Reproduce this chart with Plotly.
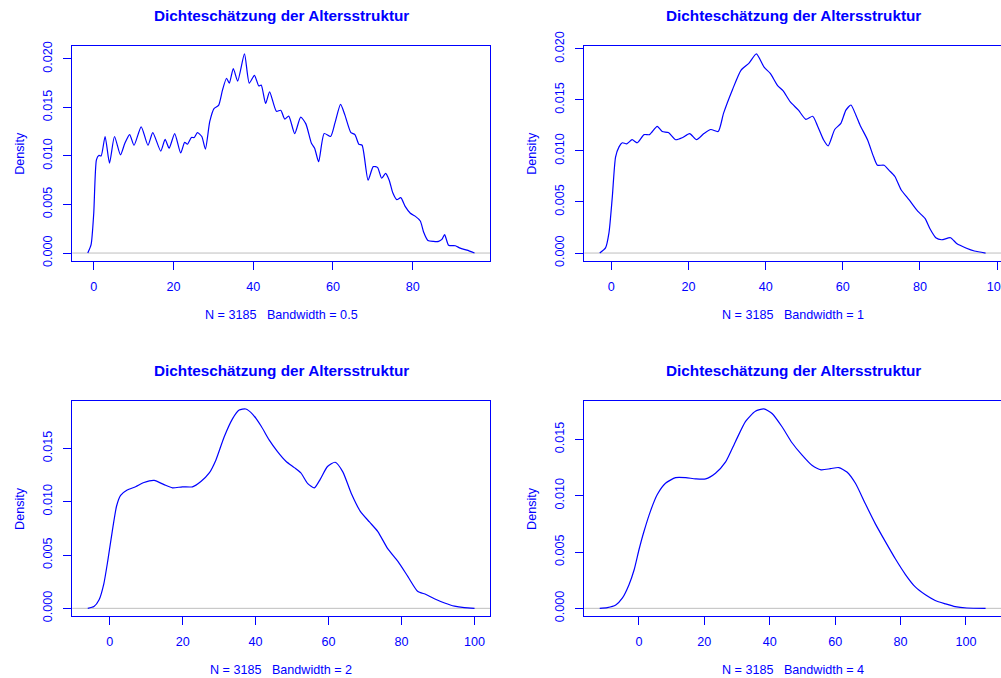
import plotly.graph_objects as go

# density estimates of the age structure (age, density)
age_bw05 = [-1.5, -0.67, 0, 0.67, 1.26, 1.85, 2.85, 3.95, 5.2, 6.7, 7.8, 9.0, 10.1, 11.9, 13.6, 14.8,
            16.8, 17.9, 18.9, 20.3, 21.8, 22.8, 23.5, 24.5, 25.2, 26.0, 27.1, 28.0, 29.1, 30.2, 31.3,
            32.3, 33.3, 34.0, 35.0, 36.1, 37.8, 39.0, 40.3, 41.4, 42.0, 43.1, 44.1, 45.8, 46.9, 47.9,
            48.9, 50.4, 51.9, 53.2, 54.6, 55.4, 56.4, 57.8, 59.4, 60.5, 61.9, 63.0, 64.5, 65.5, 66.5,
            67.3, 68.8, 70.1, 71.2, 72.2, 73.2, 74.1, 75.0, 76.0, 77.0, 78.1, 79.4, 80.6, 81.9, 82.7,
            83.8, 85.2, 86.5, 87.3, 88.0, 89.0, 90.7, 91.9, 93.6, 95.5]
dens_bw05 = [0.0, 0.00086, 0.0041, 0.0096, 0.01005, 0.0100, 0.0120, 0.00926, 0.0120, 0.0101, 0.0113,
             0.0122, 0.0111, 0.0130, 0.0111, 0.0124, 0.0105, 0.0117, 0.0108, 0.0123, 0.0103, 0.0114,
             0.0112, 0.0119, 0.0119, 0.0124, 0.0120, 0.0107, 0.01355, 0.0149, 0.0152, 0.0168, 0.0180,
             0.0175, 0.0190, 0.0177, 0.0205, 0.0175, 0.0183, 0.0172, 0.0173, 0.0154, 0.0166, 0.0146,
             0.0147, 0.0138, 0.0141, 0.0123, 0.0140, 0.0133, 0.0113, 0.0108, 0.0094, 0.0123, 0.0120,
             0.0134, 0.0153, 0.0142, 0.0124, 0.0122, 0.0112, 0.0111, 0.0075, 0.0089, 0.0088, 0.0077,
             0.0082, 0.0075, 0.0062, 0.0055, 0.0057, 0.0048, 0.0041, 0.0038, 0.0033, 0.0022, 0.0013,
             0.0012, 0.0012, 0.0014, 0.0019, 0.0008, 0.00075, 0.0005, 0.0003, 0.0]

age_bw1 = [-3.0, -1.5, -0.6, 0.26, 1.1, 2.0, 2.85, 4.0, 5.4, 6.7, 8.5, 9.9, 11.9, 13.2, 14.8, 16.7,
           18.4, 20.3, 22.1, 24.0, 25.8, 27.7, 29.1, 31.4, 33.6, 35.7, 37.6, 39.6, 41.2, 43.1, 44.5,
           46.4, 48.5, 50.4, 52.2, 53.4, 55.0, 56.2, 57.9, 59.5, 60.8, 62.1, 63.4, 64.5, 66.4, 68.0,
           69.0, 70.7, 72.0, 73.5, 75.1, 77.2, 79.4, 81.3, 82.7, 84.1, 85.6, 87.9, 89.6, 91.9, 94.1, 97.0]
dens_bw1 = [0.0, 0.0005, 0.002, 0.0055, 0.0094, 0.0104, 0.0108, 0.0107, 0.0111, 0.0108, 0.0116,
            0.0116, 0.0124, 0.0119, 0.0118, 0.0111, 0.0113, 0.0117, 0.0111, 0.0117, 0.0121, 0.0119,
            0.0137, 0.0160, 0.0179, 0.0186, 0.0195, 0.0182, 0.0176, 0.0164, 0.0159, 0.0148, 0.0140,
            0.0131, 0.0134, 0.0125, 0.0111, 0.0105, 0.0121, 0.0127, 0.0140, 0.0145, 0.0135, 0.0125,
            0.0111, 0.0094, 0.0086, 0.0086, 0.0081, 0.0075, 0.0062, 0.0052, 0.0041, 0.0034, 0.0023,
            0.0015, 0.0013, 0.0015, 0.0009, 0.0005, 0.0002, 0.0]

age_bw2 = [-6.0, -4.3, -2.9, -1.6, -0.5, 0.7, 1.9, 3.0, 4.8, 7.1, 9.4, 12.2, 14.9, 17.2, 19.9, 22.7,
           25.0, 27.3, 29.1, 31.4, 33.7, 35.5, 37.3, 39.2, 41.5, 43.7, 46.0, 48.3, 50.6, 52.4, 54.3,
           56.1, 57.7, 59.7, 61.8, 63.9, 66.2, 68.7, 71.2, 73.5, 76.2, 79.0, 81.7, 84.4, 86.7, 89.0,
           91.8, 94.5, 97.2, 100.0]
dens_bw2 = [0.0, 0.00016, 0.0008, 0.0023, 0.0045, 0.0072, 0.0096, 0.0106, 0.0111, 0.0114, 0.0118,
            0.0120, 0.0116, 0.0113, 0.0114, 0.0114, 0.0119, 0.0127, 0.0139, 0.0161, 0.0178, 0.0186,
            0.0187, 0.0182, 0.0171, 0.0158, 0.0147, 0.0138, 0.0132, 0.0127, 0.0117, 0.0113, 0.0121,
            0.0133, 0.0137, 0.0128, 0.0108, 0.0091, 0.0081, 0.0072, 0.0056, 0.0044, 0.0030, 0.0016,
            0.0013, 0.0009, 0.0005, 0.0002, 0.00006, 0.0]

age_bw4 = [-12.0, -9.7, -7.1, -5.1, -3.05, -1.5, 0.0, 1.5, 3.6, 5.6, 8.1, 11.2, 14.3, 17.3, 20.4,
           23.4, 26.5, 29.5, 32.6, 35.6, 38.2, 40.7, 43.8, 46.8, 49.9, 52.9, 55.7, 58.6, 61.1, 63.6,
           66.2, 69.2, 72.3, 75.4, 78.4, 81.5, 84.5, 87.6, 90.6, 93.7, 96.7, 100.3, 106.0]
dens_bw4 = [0.0, 0.00006, 0.0003, 0.0009, 0.0021, 0.0034, 0.0052, 0.0068, 0.0087, 0.0101, 0.0111,
            0.0116, 0.0116, 0.0115, 0.0115, 0.0120, 0.0130, 0.0148, 0.0166, 0.0175, 0.0177, 0.0173,
            0.0161, 0.0147, 0.0136, 0.0127, 0.0123, 0.0124, 0.0125, 0.0121, 0.0111, 0.0093, 0.0075,
            0.0059, 0.0044, 0.0030, 0.0019, 0.0012, 0.0007, 0.0004, 0.00015, 0.00003, 0.0]

n_obs = 3185
bandwidths = ["0.5", "1", "2", "4"]
ages = [age_bw05, age_bw1, age_bw2, age_bw4]
dens = [dens_bw05, dens_bw1, dens_bw2, dens_bw4]
title = "Dichteschätzung der Altersstruktur"

W, H = 1001, 678
# plot boxes in pixels (left, right, top, bottom)
boxes = [(72.3, 490, 46, 261), (584.3, 1001, 46, 261),
         (72.3, 490, 401, 616.3), (584.3, 1001, 401, 616.3)]

font = "Liberation Sans, Arial, sans-serif"
fs = 12.6
fig = go.Figure()
for i in range(4):
    sfx = "" if i == 0 else str(i + 1)
    l, r, t, b = boxes[i]
    x, y = ages[i], dens[i]
    xspan = max(x) - min(x)
    xr = [min(x) - 0.04 * xspan, max(x) + 0.04 * xspan]
    yr = [-0.04 * max(y), 1.04 * max(y)]
    fig.add_trace(go.Scatter(x=x, y=y, mode="lines", line=dict(color="blue", width=1.2, shape="spline", smoothing=0.6),
                             xaxis="x" + sfx, yaxis="y" + sfx, showlegend=False, hoverinfo="skip"))
    right_col = i % 2 == 1
    fig.update_layout({
        "xaxis" + sfx: dict(domain=[l / W, r / W], anchor="y" + sfx, range=xr, dtick=20, tick0=0,
                            showline=True, linecolor="blue", linewidth=1, mirror=True,
                            ticks="outside", ticklen=8, tickcolor="blue", tickwidth=1,
                            showgrid=False, zeroline=False, ticklabelstandoff=6, automargin=False,
                            ticklabeloverflow="allow",
                            tickfont=dict(color="blue", size=fs, family=font)),
        "yaxis" + sfx: dict(domain=[1 - b / H, 1 - t / H], anchor="x" + sfx, range=yr, dtick=0.005, tick0=0,
                            tickformat=".3f", tickangle=-90,
                            showline=True, linecolor="blue", linewidth=1, mirror=not right_col,
                            ticks="outside", ticklen=8, tickcolor="blue", tickwidth=1,
                            showgrid=False, zeroline=False, ticklabelstandoff=6, automargin=False,
                            ticklabeloverflow="allow",
                            tickfont=dict(color="blue", size=fs, family=font)),
    })
    fig.add_shape(type="line", xref="x" + sfx + " domain", yref="y" + sfx, x0=0, x1=1, y0=0, y1=0,
                  line=dict(color="#BEBEBE", width=1), layer="below")
    cx = (l + (l + 418)) / 2
    # title, subtitle and y label
    fig.add_annotation(x=cx / W, y=1 - (t - 31) / H, xref="paper", yref="paper", showarrow=False,
                       xanchor="center", yanchor="middle",
                       text="<b>" + title + "</b>", font=dict(color="blue", size=15.3, family=font))
    fig.add_annotation(x=cx / W, y=1 - (b + 54) / H, xref="paper", yref="paper", showarrow=False,
                       xanchor="center", yanchor="middle",
                       text="N = %d\u00a0\u00a0\u00a0Bandwidth = %s" % (n_obs, bandwidths[i]),
                       font=dict(color="blue", size=fs, family=font))
    fig.add_annotation(x=(l - 53) / W, y=1 - ((t + b) / 2) / H, xref="paper", yref="paper", showarrow=False,
                       xanchor="center", yanchor="middle",
                       text="Density", textangle=-90, font=dict(color="blue", size=fs, family=font))

fig.update_layout(width=W, height=H, margin=dict(l=0, r=0, t=0, b=0),
                  paper_bgcolor="white", plot_bgcolor="white", font=dict(family=font, color="blue"))
fig.write_html("out.html", config={"displayModeBar": False},
               post_script="document.body.style.margin='0';document.body.style.overflow='hidden';")
